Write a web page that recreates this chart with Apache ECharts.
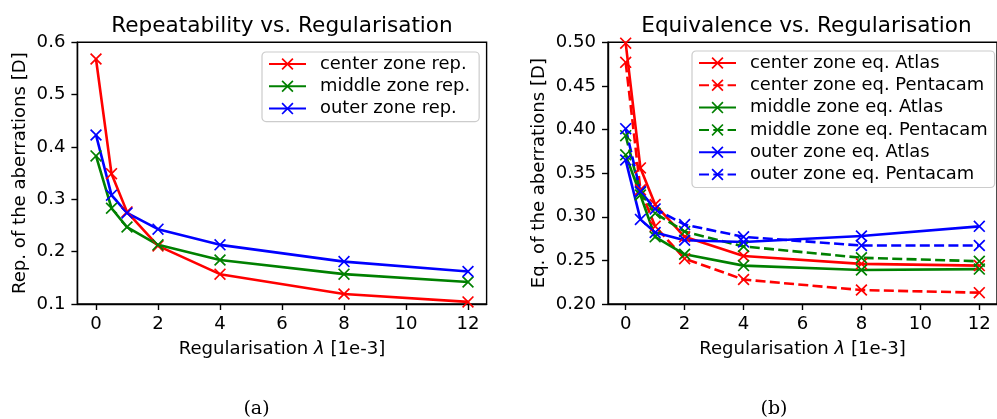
<!DOCTYPE html>
<html>
<head>
<meta charset="utf-8">
<script src="https://cdn.jsdelivr.net/npm/echarts@6/dist/echarts.min.js"></script>
<style>
  html, body { margin: 0; padding: 0; background: #fff; }
  #chart { width: 997px; height: 419px; }
</style>
</head>
<body>
<div id="chart"></div>
<script>
// Regularisation strengths (x values, in units of 1e-3)
const lambdas = [0, 0.5, 1, 2, 4, 8, 12];
const xTicks = [0, 2, 4, 6, 8, 10, 12];

// (a) repeatability of the aberrations [D]
const repCenter = [0.568, 0.349, 0.276, 0.211, 0.157, 0.119, 0.104];
const repMiddle = [0.383, 0.283, 0.247, 0.213, 0.184, 0.157, 0.142];
const repOuter  = [0.423, 0.308, 0.274, 0.243, 0.213, 0.181, 0.162];

// (b) equivalence of the aberrations [D]
const eqCenterAtlas    = [0.499, 0.356, 0.314, 0.277, 0.255, 0.246, 0.244];
const eqCenterPentacam = [0.477, 0.331, 0.289, 0.252, 0.228, 0.216, 0.213];
const eqMiddleAtlas    = [0.371, 0.325, 0.277, 0.257, 0.244, 0.239, 0.240];
const eqMiddlePentacam = [0.393, 0.328, 0.304, 0.283, 0.266, 0.253, 0.249];
const eqOuterAtlas     = [0.365, 0.297, 0.282, 0.273, 0.271, 0.278, 0.289];
const eqOuterPentacam  = [0.401, 0.329, 0.309, 0.291, 0.277, 0.267, 0.267];

const FONT = 'DejaVu Sans';
const FS = 18.1;
const LEG_FS = 17.9;
const RED = '#ff0000', GREEN = '#008000', BLUE = '#0000ff';
// filled "x" marker outline
const XMARK = 'path://M0,10L10,0L50,40L90,0L100,10L60,50L100,90L90,100L50,60L10,100L0,90L40,50Z';

function pairs(ys) { return lambdas.map((x, i) => [x, ys[i]]); }

function line(name, ys, color, dashed, idx) {
  return {
    name, type: 'line', data: pairs(ys),
    xAxisIndex: idx, yAxisIndex: idx,
    symbol: XMARK, symbolSize: 12, symbolKeepAspect: true,
    showAllSymbol: true,
    color,
    lineStyle: { color, width: 2.6, type: dashed ? [10, 4.3] : 'solid', cap: 'butt' },
    itemStyle: { color, borderWidth: 0 },
    emphasis: { disabled: true },
    animation: false
  };
}

function xAxis(idx) {
  return {
    type: 'value', gridIndex: idx, min: -0.6, max: 12.6,
    name: 'Regularisation {i|λ} [1e-3]', nameLocation: 'middle', nameGap: 36,
    nameTextStyle: { fontFamily: FONT, fontSize: FS, color: '#000',
      rich: { i: { fontFamily: FONT, fontSize: FS, fontStyle: 'italic', color: '#000' } } },
    axisLine: { show: true, onZero: false, lineStyle: { color: '#000', width: 1.4 } },
    axisTick: { show: true, length: 6, customValues: xTicks, lineStyle: { color: '#000', width: 1.4 } },
    axisLabel: { customValues: xTicks, color: '#000', fontFamily: FONT, fontSize: FS, margin: 11 },
    splitLine: { show: false }
  };
}

function yAxis(idx, name, min, max, step, digits, gap) {
  return {
    type: 'value', gridIndex: idx, min, max, interval: step,
    name, nameLocation: 'middle', nameGap: gap,
    nameTextStyle: { fontFamily: FONT, fontSize: FS, color: '#000' },
    axisLine: { show: true, onZero: false, lineStyle: { color: '#000', width: 1.4 } },
    axisTick: { show: true, length: 6, lineStyle: { color: '#000', width: 1.4 } },
    axisLabel: { color: '#000', fontFamily: FONT, fontSize: FS, margin: 12,
      showMinLabel: true, showMaxLabel: true, formatter: v => v.toFixed(digits) },
    splitLine: { show: false }
  };
}

function legend(names, left, top, padRight) {
  return {
    data: names, orient: 'vertical', left, top,
    itemWidth: 37, itemHeight: 15, itemGap: 4.3,
    padding: [3, padRight, 4, 6],
    backgroundColor: 'rgba(255,255,255,0.8)',
    borderColor: '#cccccc', borderWidth: 1.2, borderRadius: 4,
    textStyle: { fontFamily: FONT, fontSize: LEG_FS, color: '#000', padding: [0, 0, 0, 9] },
    selectedMode: false
  };
}

const chart = echarts.init(document.getElementById('chart'), null, { renderer: 'canvas' });
chart.setOption({
  animation: false,
  backgroundColor: '#fff',
  title: [
    { text: 'Repeatability vs. Regularisation', left: 277, top: 10, textAlign: 'center',
      textStyle: { fontFamily: FONT, fontSize: 21.6, fontWeight: 'normal', color: '#000' } },
    { text: 'Equivalence vs. Regularisation', left: 801.5, top: 10, textAlign: 'center',
      textStyle: { fontFamily: FONT, fontSize: 21.6, fontWeight: 'normal', color: '#000' } },
    { text: '(a)', left: 251.5, top: 395, textAlign: 'center',
      textStyle: { fontFamily: 'DejaVu Serif', fontSize: 19, fontWeight: 'normal', color: '#000' } },
    { text: '(b)', left: 769, top: 395, textAlign: 'center',
      textStyle: { fontFamily: 'DejaVu Serif', fontSize: 19, fontWeight: 'normal', color: '#000' } }
  ],
  grid: [
    { left: 77.4, width: 409.2, top: 42.3, height: 261.7, show: true, borderColor: '#000', borderWidth: 1.4, backgroundColor: 'transparent' },
    { left: 608, width: 397.4, top: 42.3, height: 261.7, show: true, borderColor: '#000', borderWidth: 1.4, backgroundColor: 'transparent' }
  ],
  xAxis: [xAxis(0), xAxis(1)],
  yAxis: [
    yAxis(0, 'Rep. of the aberrations [D]', 0.1, 0.6, 0.1, 1, 48),
    yAxis(1, 'Eq. of the aberrations [D]', 0.2, 0.5, 0.05, 2, 60)
  ],
  legend: [
    legend(['center zone rep.', 'middle zone rep.', 'outer zone rep.'], 262, 52, 9),
    legend(['center zone eq. Atlas', 'center zone eq. Pentacam', 'middle zone eq. Atlas',
            'middle zone eq. Pentacam', 'outer zone eq. Atlas', 'outer zone eq. Pentacam'], 692, 51, 7)
  ],
  series: [
    line('center zone rep.', repCenter, RED, false, 0),
    line('middle zone rep.', repMiddle, GREEN, false, 0),
    line('outer zone rep.', repOuter, BLUE, false, 0),
    line('center zone eq. Atlas', eqCenterAtlas, RED, false, 1),
    line('center zone eq. Pentacam', eqCenterPentacam, RED, true, 1),
    line('middle zone eq. Atlas', eqMiddleAtlas, GREEN, false, 1),
    line('middle zone eq. Pentacam', eqMiddlePentacam, GREEN, true, 1),
    line('outer zone eq. Atlas', eqOuterAtlas, BLUE, false, 1),
    line('outer zone eq. Pentacam', eqOuterPentacam, BLUE, true, 1)
  ]
});
</script>
</body>
</html>
